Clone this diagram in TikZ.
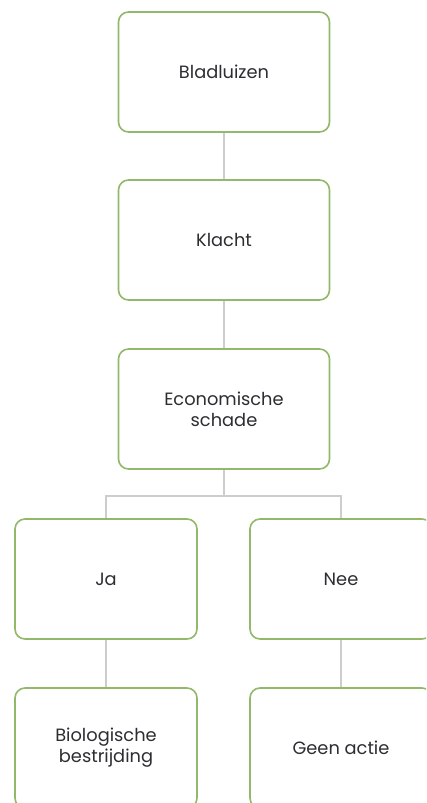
\documentclass[tikz,border=0pt]{standalone}
\usepackage{fontspec}
\setmainfont{Poppins}
\definecolor{boxgreen}{RGB}{146,184,106}
\definecolor{linegray}{RGB}{205,205,205}
\definecolor{txt}{RGB}{45,45,50}
\begin{document}
\begin{tikzpicture}[x=1pt,y=-1pt,
  box/.style={draw=boxgreen, line width=1.6pt, rounded corners=10pt, fill=white,
    minimum width=#1, minimum height=120pt, align=center, text=txt,
    font=\fontsize{17.8}{21}\selectfont, inner sep=2pt},
  box/.default=211pt,
  conn/.style={draw=linegray, line width=1.5pt}]
\clip (0,0) rectangle (426,803);
\useasboundingbox (0,0) rectangle (426,803);
\node[box] (b1) at (224,72) {Bladluizen};
\node[box] (b2) at (224,240) {Klacht};
\node[box] (b3) at (224,409) {Economische\\schade};
\node[box=182pt] (ja) at (106,579) {Ja};
\node[box=182pt] (nee) at (341,579) {Nee};
\node[box=182pt] (bio) at (106,748) {Biologische\\bestrijding};
\node[box=182pt] (geen) at (341,748) {Geen actie};
\coordinate (split) at (224,496);
\draw[conn] (b1) -- (b2);
\draw[conn] (b2) -- (b3);
\draw[conn] (b3.south) -- (split);
\draw[conn] (ja.north) |- (split) -| (nee.north);
\draw[conn] (ja) -- (bio);
\draw[conn] (nee) -- (geen);
\end{tikzpicture}
\end{document}
